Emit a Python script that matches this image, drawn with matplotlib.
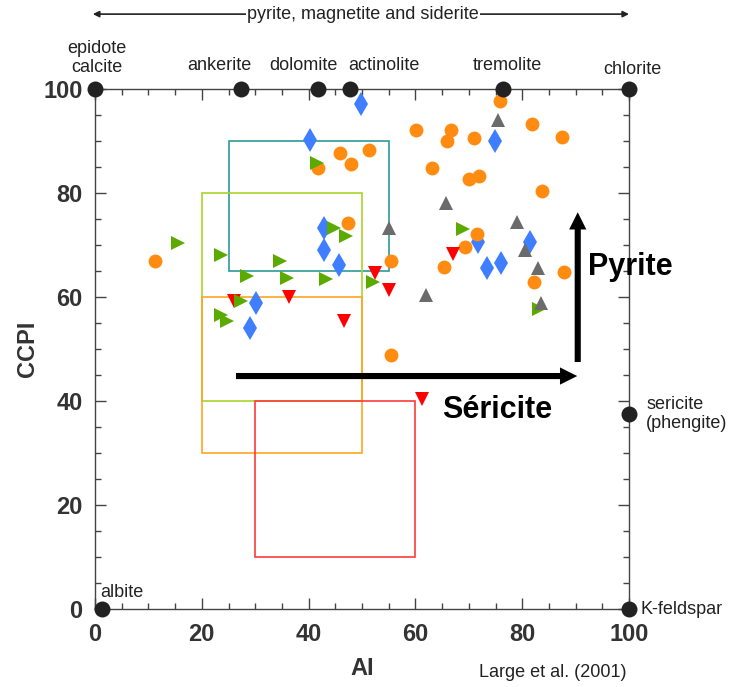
import matplotlib
matplotlib.use('Agg')
import matplotlib.pyplot as plt
from matplotlib.ticker import MultipleLocator
from matplotlib.patches import Rectangle, FancyArrowPatch

plt.rcParams['font.family'] = ['Liberation Sans', 'DejaVu Sans']

# ---- data (AI, CCPI) ----
blue_x = [49.9, 40.2, 74.9, 42.8, 42.8, 45.6, 30.2, 29.1, 71.7, 81.4, 73.4, 76.0]
blue_y = [97.1, 90.2, 90.0, 73.3, 69.0, 66.2, 58.8, 54.0, 70.6, 70.6, 65.6, 66.5]

orange_x = [11.3, 41.8, 45.8, 48.0, 51.4, 47.3, 55.5, 55.5, 60.2, 63.2, 65.9, 66.6,
            70.9, 70.0, 72.0, 75.8, 81.8, 87.4, 83.7, 71.5, 69.2, 65.3, 82.2, 87.8]
orange_y = [66.9, 84.8, 87.7, 85.6, 88.3, 74.2, 66.9, 48.8, 92.1, 84.8, 90.0, 92.1,
            90.6, 82.7, 83.3, 97.7, 93.3, 90.8, 80.4, 72.1, 69.6, 65.8, 62.9, 64.8]

red_x = [26.1, 36.4, 46.7, 52.5, 55.0, 67.0, 61.2]
red_y = [59.2, 60.0, 55.4, 64.6, 61.3, 68.3, 40.4]

green_x = [15.6, 23.6, 28.5, 34.7, 36.0, 41.6, 44.7, 47.0, 43.2, 52.0, 27.4, 23.6, 24.8, 69.0, 83.1]
green_y = [70.4, 68.1, 64.0, 66.9, 63.7, 85.8, 73.3, 71.7, 63.5, 62.9, 59.2, 56.5, 55.4, 73.1, 57.7]

gray_x = [55.0, 75.4, 65.7, 79.0, 80.5, 61.9, 82.9, 83.5]
gray_y = [73.3, 94.0, 78.1, 74.4, 69.0, 60.4, 65.6, 58.8]

# end-member minerals
mineral_names = ['epidote\ncalcite', 'ankerite', 'dolomite', 'actinolite', 'tremolite',
                 'chlorite', 'albite', 'K-feldspar', 'sericite\n(phengite)']
mineral_x = [0, 27.4, 41.8, 47.7, 76.4, 100, 1.3, 100, 100]
mineral_y = [100, 100, 100, 100, 100, 100, 0, 0, 37.5]

# alteration boxes: (AI min, AI max, CCPI min, CCPI max)
box_ai = [(25, 55), (20, 50), (20, 50), (30, 60)]
box_ccpi = [(65, 90), (40, 80), (30, 60), (10, 40)]
box_colors = ['#2E9A9A', '#A8D42A', '#FFA624', '#FF3A3A']

fig = plt.figure(figsize=(7.29, 6.87), dpi=100)
ax = fig.add_axes([95/729, 1-609/687, 534/729, 520/687])
ax.set_xlim(0, 100)
ax.set_ylim(0, 100)

for (x0, x1), (y0, y1), c in zip(box_ai, box_ccpi, box_colors):
    ax.add_patch(Rectangle((x0, y0), x1-x0, y1-y0, fill=False, edgecolor=c, lw=1.2, zorder=2))

ms = dict(linestyle='none', markeredgewidth=0, zorder=4)
ax.plot(blue_x, blue_y, marker='d', markersize=12, color='#3F7FFF', **ms)
ax.plot(orange_x, orange_y, marker='o', markersize=10, color='#FF8C10', **ms)
ax.plot(red_x, red_y, marker='v', markersize=10, color='#FF0000', **ms)
ax.plot(green_x, green_y, marker='>', markersize=10, color='#5BAA00', **ms)
ax.plot(gray_x, gray_y, marker='^', markersize=10, color='#6B6B6B', **ms)

ax.plot(mineral_x, mineral_y, marker='o', markersize=11.5, color='#222222',
        linestyle='none', markeredgewidth=0, clip_on=False, zorder=6)

# mineral labels
lab_fs = 13
tc = '#222222'
ax.text(0.4, 105.9, mineral_names[0], ha='center', va='center', fontsize=lab_fs, color=tc, linespacing=1.15)
for name, x in zip(mineral_names[1:5], [23.2, 39.1, 54.1, 77.2]):
    ax.text(x, 104.6, name, ha='center', va='center', fontsize=lab_fs, color=tc)
ax.text(100.6, 103.8, mineral_names[5], ha='center', va='center', fontsize=lab_fs, color=tc)
ax.text(0.9, 3.1, mineral_names[6], ha='left', va='center', fontsize=lab_fs, color=tc)
ax.text(102.2, 0, mineral_names[7], ha='left', va='center', fontsize=lab_fs, color=tc)
ax.text(103.2, 37.5, mineral_names[8], ha='left', va='center', fontsize=lab_fs, color=tc, linespacing=1.15)
ax.text(71.9, -12.3, 'Large et al. (2001)', ha='left', va='center', fontsize=lab_fs, color=tc)

# top range arrow
top = FancyArrowPatch((-0.4, 114.4), (100, 114.4), arrowstyle='<|-|>', mutation_scale=9,
                      lw=1.2, color='#222222', shrinkA=0, shrinkB=0, clip_on=False, zorder=5)
ax.add_patch(top)
ax.text(50.2, 114.4, 'pyrite, magnetite and siderite', ha='center', va='center', fontsize=lab_fs,
        color=tc, zorder=6, bbox=dict(facecolor='white', edgecolor='none', pad=1))

# vector arrows
style = 'simple,tail_width=0.22,head_width=0.62,head_length=0.62'
ax.add_patch(FancyArrowPatch((26.4, 44.8), (90.3, 44.8), arrowstyle=style, mutation_scale=20,
                             color='black', lw=0, shrinkA=0, shrinkB=0, zorder=7))
ax.add_patch(FancyArrowPatch((90.4, 47.5), (90.4, 76.3), arrowstyle=style, mutation_scale=20,
                             color='black', lw=0, shrinkA=0, shrinkB=0, zorder=7))
ax.text(92.3, 65.8, 'Pyrite', ha='left', va='center', fontsize=22, fontweight='bold', color='black', zorder=8)
ax.text(65.0, 38.3, 'Séricite', ha='left', va='center', fontsize=22, fontweight='bold', color='black', zorder=8)

# axes styling
for s in ax.spines.values():
    s.set_color('#444444')
    s.set_linewidth(1.0)
ax.xaxis.set_major_locator(MultipleLocator(20))
ax.yaxis.set_major_locator(MultipleLocator(20))
ax.xaxis.set_minor_locator(MultipleLocator(5))
ax.yaxis.set_minor_locator(MultipleLocator(5))
ax.tick_params(which='both', direction='in', top=True, right=True, color='#444444', width=1.0)
ax.tick_params(which='major', length=8)
ax.tick_params(which='minor', length=4)
ax.tick_params(axis='x', which='major', pad=10)
ax.tick_params(axis='y', which='major', pad=9)
for lab in ax.get_xticklabels() + ax.get_yticklabels():
    lab.set_fontsize(17)
    lab.set_fontweight('bold')
    lab.set_color('#333333')
ax.set_xlabel('AI', fontsize=17, fontweight='bold', color='#333333', labelpad=8)
ax.set_ylabel('CCPI', fontsize=17, fontweight='bold', color='#333333', labelpad=3)

fig.savefig('out.png', dpi=100)
